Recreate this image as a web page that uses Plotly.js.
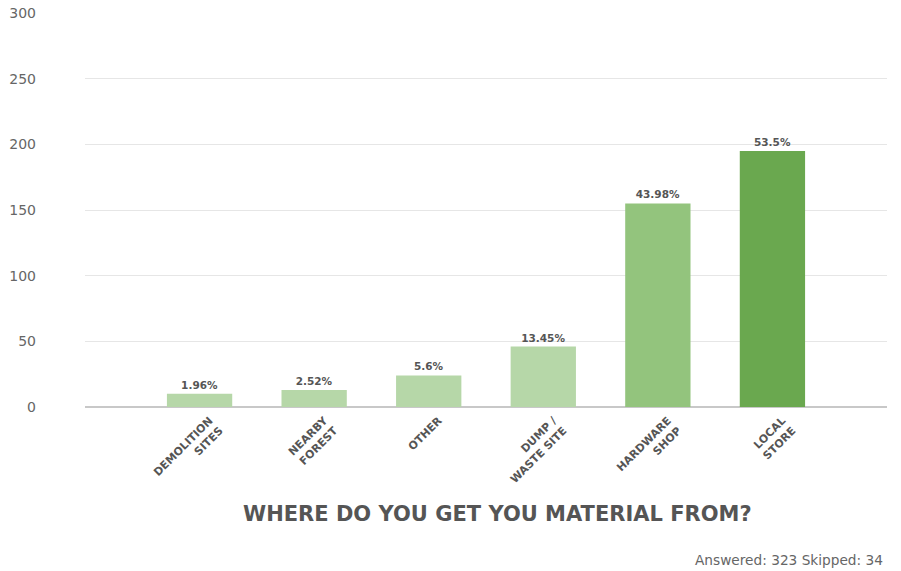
<!DOCTYPE html>
<html>
<head>
<meta charset="utf-8">
<script src="https://cdn.plot.ly/plotly-3.0.1.min.js"></script>
<style>html,body{margin:0;padding:0;background:#fff;}#chart{width:901px;height:571px;}</style>
</head>
<body>
<div id="chart"></div>
<script>
const categories = ["DEMOLITION<br>SITES", "NEARBY<br>FOREST", "OTHER", "DUMP /<br>WASTE SITE", "HARDWARE<br>SHOP", "LOCAL<br>STORE"];
const counts = [10, 13, 24, 46, 155, 195];
const percentLabels = ["1.96%", "2.52%", "5.6%", "13.45%", "43.98%", "53.5%"];
const barColors = ["#b6d7a8", "#b6d7a8", "#b6d7a8", "#b6d7a8", "#93c47d", "#6aa84f"];
const yTicks = [0, 50, 100, 150, 200, 250, 300];

const FONT = "DejaVu Sans, sans-serif";

const trace = {
  type: "bar",
  x: categories,
  y: counts,
  text: percentLabels,
  textposition: "outside",
  textfont: {family: FONT, size: 10.5, color: "#555555", weight: 600},
  cliponaxis: false,
  marker: {color: barColors},
  width: 0.57,
  hoverinfo: "none"
};

const layout = {
  width: 901, height: 571,
  margin: {l: 85, r: 14, t: 13, b: 164},
  paper_bgcolor: "#ffffff",
  plot_bgcolor: "#ffffff",
  showlegend: false,
  font: {family: FONT, color: "#666666"},
  title: {
    text: "WHERE DO YOU GET YOU MATERIAL FROM?",
    font: {family: FONT, size: 21, color: "#555555", weight: 700},
    xref: "container", x: 0.552, xanchor: "center",
    yref: "container", y: 1 - 514/571, yanchor: "middle"
  },
  xaxis: {
    type: "category",
    range: [-1, 6],
    tickangle: -45,
    tickfont: {family: FONT, size: 11, color: "#555555", weight: 600},
    showgrid: false,
    showline: false,
    zeroline: false,
    ticks: "",
    ticklabelshift: 10,
    ticklabelstandoff: 4
  },
  yaxis: {
    range: [0, 300],
    tickvals: yTicks,
    ticktext: yTicks.map(String),
    tickfont: {family: FONT, size: 14, color: "#666666"},
    showgrid: true,
    gridcolor: "#e6e6e6",
    gridwidth: 1,
    zeroline: true,
    zerolinecolor: "#c8c8c8",
    zerolinewidth: 2,
    showline: false,
    ticks: "",
    ticklabelstandoff: 48,
    automargin: false
  },
  annotations: [{
    text: "Answered: 323 Skipped: 34",
    xref: "paper", yref: "paper",
    x: 0.997, y: -(560 - 407) / 394,
    xanchor: "right", yanchor: "middle",
    showarrow: false,
    font: {family: FONT, size: 13.7, color: "#666666"}
  }]
};

Plotly.newPlot("chart", [trace], layout, {displayModeBar: false, staticPlot: true});
</script>
</body>
</html>
